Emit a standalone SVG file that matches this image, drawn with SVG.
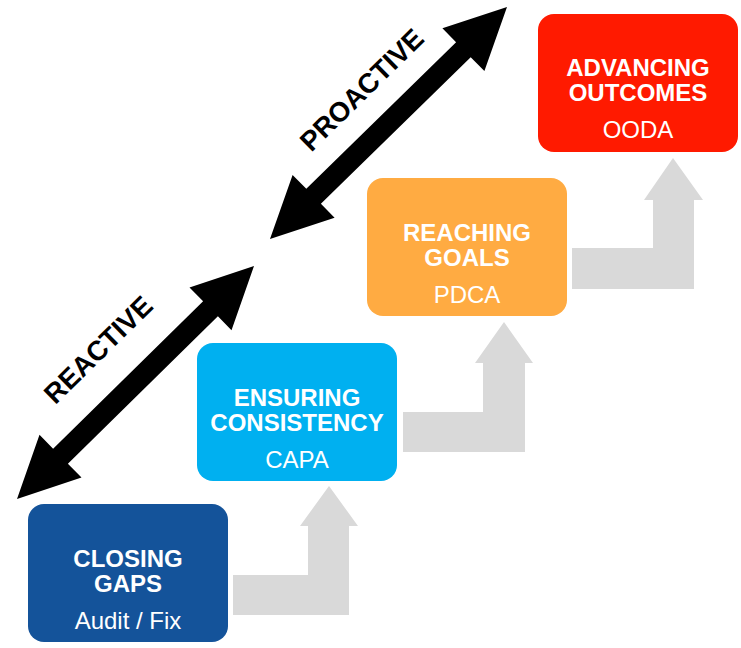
<svg xmlns="http://www.w3.org/2000/svg" width="741" height="648" viewBox="0 0 741 648">
<style>
.box{stroke:none}
.t{font-family:"Liberation Sans",Arial,sans-serif;font-weight:bold;font-size:24px;fill:#fff;text-anchor:middle}
.s{font-family:"Liberation Sans",Arial,sans-serif;font-size:24px;fill:#fff;text-anchor:middle}
.lab{font-family:"Liberation Sans",Arial,sans-serif;font-weight:bold;font-size:27.5px;fill:#000;text-anchor:middle}
.step{fill:#D9D9D9}
.dbl{fill:#000}
</style>
<rect width="741" height="648" fill="#fff"/>
<g id="connectors">
<polygon class="step" points="233,575 308,575 308,526 300,526 329,486 358,526 349,526 349,615 233,615"/>
<polygon class="step" points="403,412 483,412 483,363 475,363 504,322 533,363 525,363 525,452 403,452"/>
<polygon class="step" points="572,248 653,248 653,200 644,200 673,158 703,200 694,200 694,289 572,289"/>
<polygon class="dbl" points="254,266 231.5,330.2 217.9,316.3 67.9,463.7 81.5,477.6 17,499 39.5,434.8 53.1,448.7 203.1,301.3 189.5,287.4"/>
<polygon class="dbl" points="507,7 484.4,71.1 470.7,57.2 320.9,203.8 334.6,217.7 270,239 292.6,174.9 306.3,188.8 456.1,42.2 442.4,28.3"/>
</g>
<g id="label-reactive"><text class="lab" transform="translate(98,349.5) rotate(-44.5)" y="9.8">REACTIVE</text></g>
<g id="label-proactive"><text class="lab" transform="translate(361.5,89.5) rotate(-44.5)" y="9.8">PROACTIVE</text></g>
<g id="closing-gaps">
<rect class="box" x="28" y="504" width="200" height="138" rx="16" fill="#14539A"/>
<text class="t" x="128" y="566.5">CLOSING</text>
<text class="t" x="128" y="591.5">GAPS</text>
<text class="s" x="128" y="628.5">Audit / Fix</text>
</g>
<g id="ensuring-consistency">
<rect class="box" x="197" y="343" width="200" height="138" rx="16" fill="#00B0F0"/>
<text class="t" x="297" y="406">ENSURING</text>
<text class="t" x="297" y="431">CONSISTENCY</text>
<text class="s" x="297" y="468">CAPA</text>
</g>
<g id="reaching-goals">
<rect class="box" x="367" y="178" width="200" height="138" rx="16" fill="#FFAB42"/>
<text class="t" x="467" y="241">REACHING</text>
<text class="t" x="467" y="266">GOALS</text>
<text class="s" x="467" y="303">PDCA</text>
</g>
<g id="advancing-outcomes">
<rect class="box" x="538" y="14" width="200" height="138" rx="16" fill="#FF1A00"/>
<text class="t" x="638" y="76">ADVANCING</text>
<text class="t" x="638" y="101">OUTCOMES</text>
<text class="s" x="638" y="138">OODA</text>
</g>
</svg>
